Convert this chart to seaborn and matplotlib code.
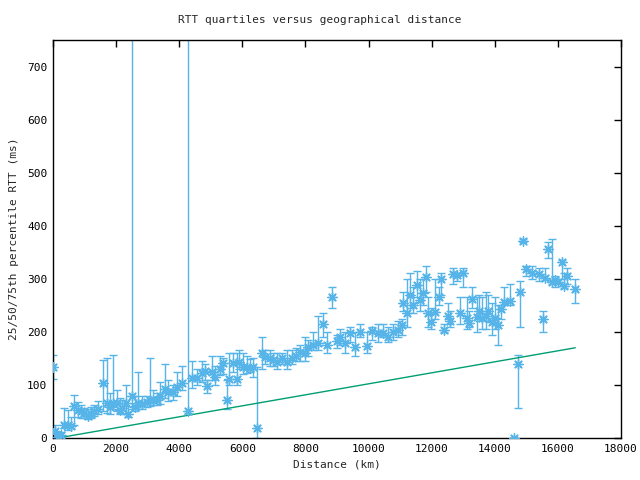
import matplotlib
matplotlib.use("Agg")
import matplotlib.pyplot as plt
import seaborn as sns
import pandas as pd

distance_km = [0, 60, 160, 250, 350, 480, 570, 670, 790, 890, 980, 1110, 1200, 1300, 1430,
               1580, 1710, 1810, 1900, 2030, 2120, 2190, 2310, 2380, 2500, 2600, 2690, 2820,
               2980, 3070, 3170, 3290, 3400, 3550, 3650, 3800, 3930, 4090, 4280, 4400, 4560,
               4720, 4820, 4880, 5040, 5130, 5290, 5390, 5510, 5580, 5710, 5830, 5900, 6020,
               6150, 6250, 6340, 6470, 6620, 6720, 6880, 6970, 7100, 7260, 7420, 7580, 7700,
               7830, 7990, 8080, 8240, 8400, 8560, 8680, 8840, 8990, 9100, 9250, 9410, 9570,
               9730, 9950, 10110, 10300, 10460, 10620, 10780, 10930, 11060, 11090, 11220, 11320,
               11410, 11540, 11630, 11730, 11820, 11890, 11980, 12110, 12230, 12300, 12390,
               12520, 12580, 12680, 12800, 12900, 12990, 13120, 13190, 13280, 13440, 13500,
               13600, 13720, 13790, 13910, 14010, 14100, 14200, 14290, 14490, 14610, 14740,
               14800, 14900, 14990, 15180, 15400, 15530, 15590, 15690, 15820, 15910, 16010,
               16130, 16200, 16290, 16550]
median_ms = [134, 13, 1, 6, 25, 25, 23, 60, 53, 51, 47, 42, 45, 51, 55,
             104, 66, 59, 66, 66, 53, 57, 66, 45, 79, 59, 66, 64,
             68, 72, 72, 72, 80, 92, 87, 87, 96, 104, 51, 113, 113,
             123, 126, 98, 125, 115, 130, 141, 72, 111, 141, 111, 143, 134,
             134, 132, 134, 19, 160, 153, 151, 147, 143, 151, 143, 151, 155,
             162, 160, 172, 175, 179, 215, 175, 266, 182, 191, 179, 198, 172,
             200, 174, 202, 198, 198, 191, 200, 204, 213, 255, 236, 270,
             251, 289, 260, 274, 304, 236, 219, 238, 266, 300, 204,
             230, 221, 309, 307, 236, 311, 226, 217, 262, 228, 240,
             226, 230, 240, 219, 226, 213, 243, 257, 258, 0, 140,
             275, 372, 319, 311, 309, 225, 302, 357, 294, 298, 294,
             332, 287, 306, 281]
q1_ms = [112, 3, 0, 0, 18, 15, 18, 25, 40, 38, 38, 35, 38, 42, 45,
         50, 48, 45, 55, 50, 45, 48, 45, 40, 55, 50, 55, 55,
         58, 60, 62, 62, 65, 75, 70, 72, 80, 90, 48, 95, 100,
         105, 110, 85, 110, 100, 118, 120, 55, 100, 125, 100, 130, 120,
         122, 125, 115, 0, 130, 140, 135, 135, 130, 140, 130, 140, 145,
         145, 145, 155, 165, 165, 190, 160, 245, 170, 175, 160, 180, 155,
         190, 160, 185, 180, 190, 180, 185, 190, 195, 240, 210, 245,
         235, 265, 240, 250, 275, 210, 205, 225, 250, 270, 200,
         215, 210, 290, 295, 215, 285, 205, 210, 245, 200, 220,
         205, 205, 220, 195, 205, 175, 225, 250, 250, 0, 57,
         210, 370, 305, 300, 295, 200, 297, 340, 290, 285, 290,
         300, 283, 290, 255]
q3_ms = [157, 24, 8, 12, 57, 52, 40, 81, 68, 62, 57, 55, 58, 62, 70,
         147, 151, 85, 157, 90, 75, 72, 100, 60, 1000, 80, 125, 80,
         80, 150, 90, 85, 105, 140, 110, 100, 125, 135, 1000, 145, 130,
         145, 140, 110, 155, 135, 155, 150, 110, 160, 160, 160, 165, 160,
         155, 148, 150, 134, 190, 165, 165, 160, 160, 160, 165, 165, 170,
         175, 190, 185, 200, 230, 235, 200, 285, 195, 205, 200, 210, 200,
         215, 200, 210, 215, 215, 210, 215, 220, 225, 275, 300, 310,
         285, 315, 300, 300, 325, 265, 245, 300, 285, 310, 215,
         255, 240, 320, 310, 265, 320, 265, 240, 285, 265, 270,
         265, 275, 270, 255, 265, 250, 250, 285, 290, 0, 157,
         295, 375, 325, 325, 320, 240, 320, 370, 375, 305, 300,
         335, 310, 320, 300]

line_km = [150, 16550]
line_ms = [0, 170]

df = pd.DataFrame({"d": distance_km, "m": median_ms, "lo": q1_ms, "hi": q3_ms})
ldf = pd.DataFrame({"d": line_km, "m": line_ms})

sns.set_style("white")
plt.rcParams["font.family"] = ["DejaVu Sans Mono", "DejaVu Sans"]

blue = "#56b4e9"
green = "#009e73"

fig = plt.figure(figsize=(6.4, 4.8), dpi=100)
ax = fig.add_axes([53 / 640, 1 - 438 / 480, (621 - 53) / 640, (438 - 40) / 480])

ax.errorbar(df["d"], df["m"], yerr=[df["m"] - df["lo"], df["hi"] - df["m"]],
            fmt="none", ecolor=blue, elinewidth=1.0, capsize=3, capthick=1.0, zorder=2)
sns.scatterplot(data=df, x="d", y="m", ax=ax, marker=(8, 2, 0), s=45,
                color=blue, linewidth=1.0, edgecolor=blue, zorder=3, legend=False)
sns.lineplot(data=ldf, x="d", y="m", ax=ax, color=green, linewidth=1.0, zorder=2)

ax.set_xlim(0, 18000)
ax.set_ylim(0, 750)
ax.set_xticks(range(0, 18001, 2000))
ax.set_yticks(range(0, 701, 100))
ax.tick_params(direction="in", length=5, width=1, top=True, right=True,
               labelsize=8, colors="black", pad=4)
for s in ax.spines.values():
    s.set_visible(True)
    s.set_color("black")
    s.set_linewidth(1.0)

ax.set_xlabel("Distance (km)", fontsize=8, labelpad=4)
ax.set_ylabel("25/50/75th percentile RTT (ms)", fontsize=8, labelpad=6)
fig.text(0.5, 1 - 20 / 480, "RTT quartiles versus geographical distance",
         ha="center", va="center", fontsize=8)

fig.savefig("out.png", dpi=100)
